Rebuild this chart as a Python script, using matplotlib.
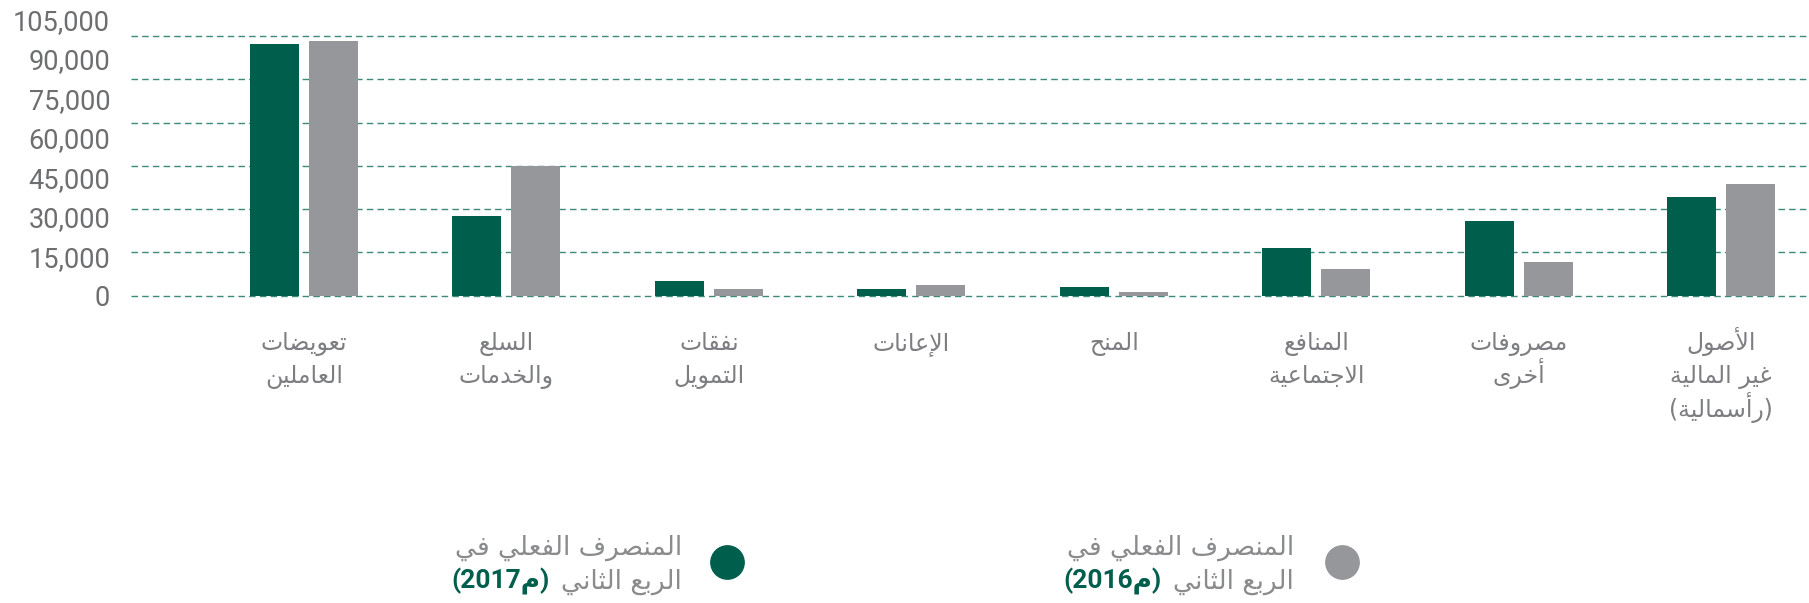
import re
import matplotlib
matplotlib.use("Agg")
import matplotlib.pyplot as plt
from matplotlib.lines import Line2D

# بيانات الرسم
categories = ["تعويضات\nالعاملين", "السلع\nوالخدمات", "نفقات\nالتمويل", "الإعانات", "المنح",
              "المنافع\nالاجتماعية", "مصروفات\nأخرى", "الأصول\nغير المالية\n(رأسمالية)"]
spent_2017 = [87300, 27600, 5100, 2300, 3000, 16500, 25900, 34300]
spent_2016 = [88300, 44800, 2300, 3700, 1300, 9250, 11700, 38800]
grid_values = [0, 15000, 30000, 45000, 60000, 75000, 90000]
ytick_labels = [0, 15000, 30000, 45000, 60000, 75000, 90000, 105000]
legend_line1 = "المنصرف الفعلي في"
legend_line2 = "الربع الثاني"
legend_years = ["(م2017)", "(م2016)"]

GREEN = "#005e4d"
GREY = "#96979a"
TEXT = "#6d6e70"

# تشكيل الحروف العربية (matplotlib لا يدعم الربط ولا الاتجاه من اليمين لليسار)
_LETTERS = "ءآأؤإئابةتثجحخدذرزسشصضطظعغفقكلمنهوىي"
_RIGHT_ONLY = set("آأؤإادذرزوىة")
FORMS = {}
code = 0xFE80
for ch in _LETTERS:
    n = 1 if ch == "ء" else (2 if ch in _RIGHT_ONLY else 4)
    FORMS[ch] = [chr(code + k) for k in range(n)]
    code += n
LAM_ALEF = {"آ": 0xFEF5, "أ": 0xFEF7, "إ": 0xFEF9, "ا": 0xFEFB}
MIRROR = {"(": ")", ")": "("}


def shape(text):
    tokens = []
    i = 0
    while i < len(text):
        c = text[i]
        if c == "ل" and i + 1 < len(text) and text[i + 1] in LAM_ALEF:
            tokens.append(("la", text[i + 1]))
            i += 2
        else:
            tokens.append(("ch", c))
            i += 1

    def dual(t):
        return t[0] == "ch" and t[1] in FORMS and len(FORMS[t[1]]) == 4

    def arabic(t):
        return t[0] == "la" or t[1] in FORMS

    out = []
    for k, t in enumerate(tokens):
        prev_joins = k > 0 and dual(tokens[k - 1])
        if t[0] == "la":
            out.append(chr(LAM_ALEF[t[1]] + (1 if prev_joins else 0)))
            continue
        c = t[1]
        if c not in FORMS:
            out.append(c)
            continue
        f = FORMS[c]
        next_joins = len(f) == 4 and k + 1 < len(tokens) and arabic(tokens[k + 1])
        if len(f) == 1:
            idx = 0
        elif prev_joins and next_joins:
            idx = 3
        elif next_joins:
            idx = 2
        elif prev_joins:
            idx = 1
        else:
            idx = 0
        out.append(f[idx])
    return "".join(out)


def visual(text):
    lines = []
    for line in text.split("\n"):
        runs = re.findall(r"[0-9]+|[^0-9]+", shape(line))
        rev = []
        for r in reversed(runs):
            if r[0].isdigit():
                rev.append(r)
            else:
                rev.append("".join(MIRROR.get(c, c) for c in reversed(r)))
        lines.append("".join(rev))
    return "\n".join(lines)


W, H = 1809, 603
fig = plt.figure(figsize=(W / 100, H / 100), dpi=100)
ax = fig.add_axes([131 / W, 0.5023, 1 - 131 / W, 0.4811])

x = list(range(len(categories)))
bw = 0.242
off = 0.1458
ax.bar([i - off for i in x], spent_2017, width=bw, color=GREEN, zorder=2)
ax.bar([i + off for i in x], spent_2016, width=bw, color=GREY, zorder=2)

ax.set_xlim(-0.855, len(categories) - 1 + 0.435)
ax.set_ylim(-1500, 99000)
ax.set_axisbelow(True)
ax.set_yticks(grid_values)
ax.tick_params(axis="y", length=0, labelleft=False)
ax.yaxis.grid(True, linestyle=(0, (4.7, 3)), color="#3d8a7b", linewidth=1.0)
for s in ax.spines.values():
    s.set_visible(False)

# تسميات الفئات: كل سطر على حدة حتى تتساوى المسافات بين الأسطر
ax.set_xticks(x)
ax.tick_params(axis="x", length=0, labelbottom=False)
for i, cat in enumerate(categories):
    for j, line in enumerate(cat.split("\n")):
        ax.annotate(visual(line), xy=(i, 0), xycoords=ax.get_xaxis_transform(),
                    xytext=(0, -(35.6 + 24.1 * j)), textcoords="offset points",
                    ha="center", va="baseline", fontsize=17, color="#7d7e81",
                    family="DejaVu Sans", annotation_clip=False)

# تسميات المحور الرأسي (متباعدة قليلاً عن خطوط الشبكة كما في الأصل)
k = 0.912
sec = ax.secondary_yaxis("left", functions=(lambda v: v / k, lambda v: v * k))
sec.set_yticks(ytick_labels)
sec.set_yticklabels([f"{v:,}" for v in ytick_labels], fontsize=19.5,
                    color=TEXT, family="Roboto")
sec.tick_params(length=0, pad=15)
for s in sec.spines.values():
    s.set_visible(False)

# وسيلة الإيضاح
for (text_right, cx, color, year) in [(682, 727, GREEN, legend_years[0]),
                                       (1294, 1342, GREY, legend_years[1])]:
    fig.text(text_right / W, 1 - 555 / H, visual(legend_line1), ha="right",
             va="baseline", fontsize=19, color="#8a8b8d", family="DejaVu Sans")
    t2 = fig.text(text_right / W, 1 - 589 / H, visual(legend_line2), ha="right",
                  va="baseline", fontsize=19, color="#8a8b8d", family="DejaVu Sans")
    ax.annotate(visual(year), xy=(0, 0), xycoords=t2, xytext=(-8, 0),
                textcoords="offset points", ha="right", va="bottom",
                fontsize=19, color=GREEN, fontweight="bold",
                family=["Roboto", "DejaVu Sans"], annotation_clip=False)
    fig.add_artist(Line2D([cx / W], [1 - 562 / H], marker="o", markersize=24,
                          color=color, linestyle="none", transform=fig.transFigure))

fig.savefig("out.png", dpi=100)
